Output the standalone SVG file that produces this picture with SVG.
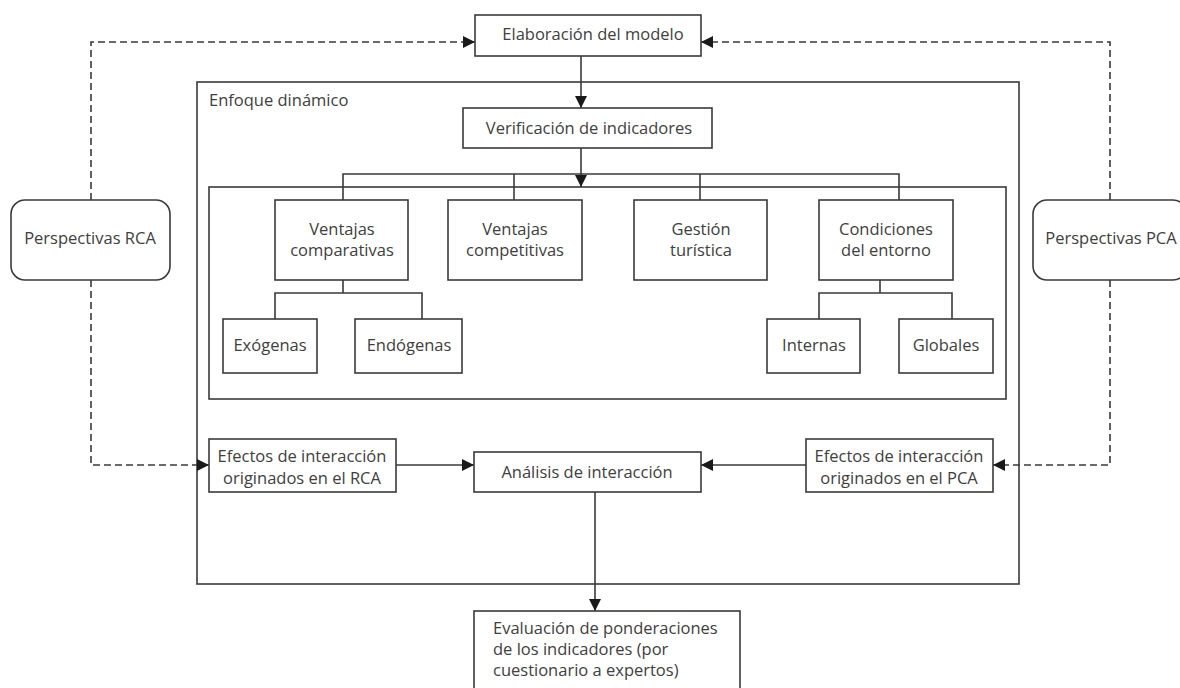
<svg xmlns="http://www.w3.org/2000/svg" width="1180" height="688" viewBox="0 0 1180 688">
<defs>
<style>
.box{fill:#fff;stroke:#3a3a3a;stroke-width:1.6}
.frame{fill:none;stroke:#3a3a3a;stroke-width:1.6}
.ln{fill:none;stroke:#3a3a3a;stroke-width:1.6}
.dash{fill:none;stroke:#3a3a3a;stroke-width:1.6;stroke-dasharray:7 4}
text{font-family:"Open Sans","Noto Sans","Liberation Sans",sans-serif;font-size:16.5px;fill:#404040}
.c{text-anchor:middle}
</style>
<marker id="ah" viewBox="0 0 10 10" refX="10" refY="5" markerWidth="12" markerHeight="12" markerUnits="userSpaceOnUse" orient="auto">
<path d="M0,0 L10,5 L0,10 Z" fill="#1a1a1a"/>
</marker>
</defs>
<rect width="1180" height="688" fill="#fff"/>

<g id="enfoque">
<rect class="frame" x="197" y="82" width="822" height="502"/>
<text x="209" y="106">Enfoque dinámico</text>
</g>
<g id="inner">
<rect class="frame" x="209" y="187" width="797" height="212"/>
</g>

<g id="connectors">
<path class="ln" d="M581,56 V108" marker-end="url(#ah)"/>
<path class="ln" d="M581,148 V187" marker-end="url(#ah)"/>
<path class="ln" d="M343,200 V174 H899 V200"/>
<path class="ln" d="M514,174 V200"/>
<path class="ln" d="M700,174 V200"/>
<path class="ln" d="M343,280 V293 M275,319 V293 H422 V319"/>
<path class="ln" d="M880,280 V293 M819,319 V293 H952 V319"/>
<path class="ln" d="M396,465 H474" marker-end="url(#ah)"/>
<path class="ln" d="M806,465 H701" marker-end="url(#ah)"/>
<path class="ln" d="M595,492 V611" marker-end="url(#ah)"/>
<path class="dash" d="M91,200 V42 H475" marker-end="url(#ah)"/>
<path class="dash" d="M1110,200 V42 H701" marker-end="url(#ah)"/>
<path class="dash" d="M91,280 V465 H209" marker-end="url(#ah)"/>
<path class="dash" d="M1110,280 V465 H993" marker-end="url(#ah)"/>
</g>

<g id="elaboracion">
<rect class="box" x="475" y="15" width="226" height="41"/>
<text class="c" x="593" y="40">Elaboración del modelo</text>
</g>
<g id="verificacion">
<rect class="box" x="463" y="108" width="249" height="40"/>
<text class="c" x="589" y="134">Verificación de indicadores</text>
</g>
<g id="ventajas-comparativas">
<rect class="box" x="275" y="200" width="133" height="80"/>
<text class="c" x="342" y="235">Ventajas</text>
<text class="c" x="342" y="256">comparativas</text>
</g>
<g id="ventajas-competitivas">
<rect class="box" x="448" y="200" width="134" height="80"/>
<text class="c" x="515" y="235">Ventajas</text>
<text class="c" x="515" y="256">competitivas</text>
</g>
<g id="gestion">
<rect class="box" x="634" y="200" width="133" height="80"/>
<text class="c" x="701" y="235">Gestión</text>
<text class="c" x="701" y="256">turística</text>
</g>
<g id="condiciones">
<rect class="box" x="819" y="200" width="134" height="80"/>
<text class="c" x="886" y="235">Condiciones</text>
<text class="c" x="886" y="256">del entorno</text>
</g>
<g id="exogenas">
<rect class="box" x="223" y="319" width="94" height="54"/>
<text class="c" x="270" y="351">Exógenas</text>
</g>
<g id="endogenas">
<rect class="box" x="355" y="319" width="107" height="54"/>
<text class="c" x="409" y="351">Endógenas</text>
</g>
<g id="internas">
<rect class="box" x="767" y="319" width="93" height="54"/>
<text class="c" x="814" y="351">Internas</text>
</g>
<g id="globales">
<rect class="box" x="899" y="319" width="94" height="54"/>
<text class="c" x="946" y="351">Globales</text>
</g>
<g id="perspectivas-rca">
<rect class="box" x="11" y="200" width="159" height="80" rx="14"/>
<text class="c" x="90" y="244">Perspectivas RCA</text>
</g>
<g id="perspectivas-pca">
<rect class="box" x="1033" y="200" width="154" height="80" rx="14"/>
<text class="c" x="1111" y="244">Perspectivas PCA</text>
</g>
<g id="efectos-rca">
<rect class="box" x="209" y="439" width="187" height="53"/>
<text class="c" x="302" y="462">Efectos de interacción</text>
<text class="c" x="302" y="484">originados en el RCA</text>
</g>
<g id="analisis">
<rect class="box" x="474" y="452" width="227" height="40"/>
<text class="c" x="587" y="478">Análisis de interacción</text>
</g>
<g id="efectos-pca">
<rect class="box" x="806" y="439" width="187" height="53"/>
<text class="c" x="899" y="462">Efectos de interacción</text>
<text class="c" x="899" y="484">originados en el PCA</text>
</g>
<g id="evaluacion">
<rect class="box" x="474" y="611" width="266" height="90"/>
<text x="493" y="634">Evaluación de ponderaciones</text>
<text x="493" y="655">de los indicadores (por</text>
<text x="493" y="676">cuestionario a expertos)</text>
</g>
</svg>
